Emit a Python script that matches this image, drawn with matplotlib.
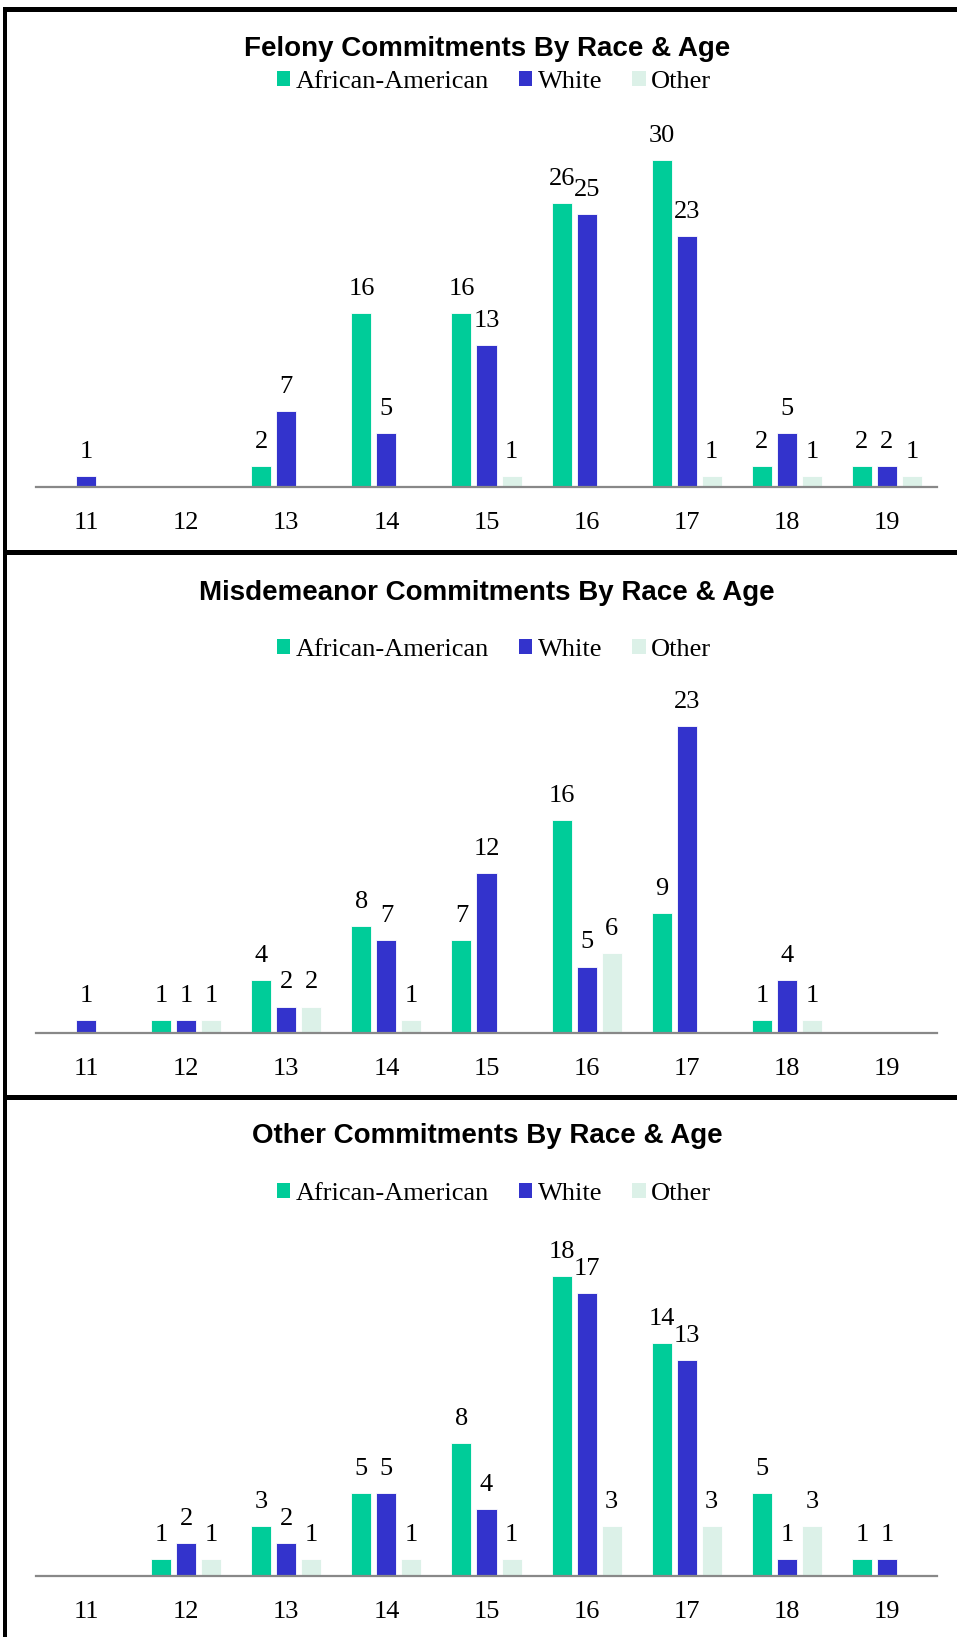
import matplotlib
matplotlib.use("Agg")
import matplotlib.pyplot as plt
from matplotlib.patches import Patch, Rectangle
import numpy as np

ages = ["11", "12", "13", "14", "15", "16", "17", "18", "19"]
series_names = ["African-American", "White", "Other"]
colors = ["#00CC99", "#3333CC", "#DCF1E8"]

felony_aa = [0, 0, 2, 16, 16, 26, 30, 2, 2]
felony_white = [1, 0, 7, 5, 13, 25, 23, 5, 2]
felony_other = [0, 0, 0, 0, 1, 0, 1, 1, 1]

misd_aa = [0, 1, 4, 8, 7, 16, 9, 1, 0]
misd_white = [1, 1, 2, 7, 12, 5, 23, 4, 0]
misd_other = [0, 1, 2, 1, 0, 6, 0, 1, 0]

oth_aa = [0, 1, 3, 5, 8, 18, 14, 5, 1]
oth_white = [0, 2, 2, 5, 4, 17, 13, 1, 1]
oth_other = [0, 1, 1, 1, 1, 3, 3, 3, 0]

titles = ["Felony Commitments By Race & Age",
          "Misdemeanor Commitments By Race & Age",
          "Other Commitments By Race & Age"]

W, H = 957, 1637
fig = plt.figure(figsize=(W / 100, H / 100), dpi=100)
fig.patch.set_facecolor("white")

serif = "Liberation Serif"
sans = "Liberation Sans"

panels = [
    dict(data=[felony_aa, felony_white, felony_other], base=487.4, ppu=10.92, ymax=35,
         title_y=49, legend_y=82),
    dict(data=[misd_aa, misd_white, misd_other], base=1033.2, ppu=13.34, ymax=28,
         title_y=593, legend_y=650),
    dict(data=[oth_aa, oth_white, oth_other], base=1575.9, ppu=16.64, ymax=22,
         title_y=1136, legend_y=1194),
]

x_left, x_right = 36, 937
x = np.arange(len(ages))
bw = 0.2
offs = [-0.25, 0.0, 0.25]

for i, p in enumerate(panels):
    h_px = p["ymax"] * p["ppu"]
    ax = fig.add_axes([x_left / W, (H - p["base"]) / H, (x_right - x_left) / W, h_px / H])
    for s in range(3):
        vals = p["data"][s]
        ax.bar(x + offs[s], vals, width=bw, color=colors[s],
               edgecolor="white", linewidth=0.6, zorder=2)
        for xi, v in zip(x + offs[s], vals):
            if v > 0:
                ax.annotate(str(v), (xi, v), xytext=(0, 13), textcoords="offset points",
                            ha="center", va="baseline", fontsize=19, family=serif)
    ax.set_xlim(-0.5, len(ages) - 0.5)
    ax.set_ylim(0, p["ymax"])
    ax.set_xticks(x)
    ax.set_xticklabels(ages, fontsize=19, family=serif)
    ax.tick_params(axis="x", length=0, pad=18)
    ax.set_yticks([])
    for sp in ["top", "left", "right"]:
        ax.spines[sp].set_visible(False)
    ax.spines["bottom"].set_color("#888888")
    ax.spines["bottom"].set_linewidth(1.6)
    ax.patch.set_alpha(0)

    fig.text(487 / W, 1 - p["title_y"] / H, titles[i], ha="center", va="center",
             fontsize=20, fontweight="bold", family=sans)
    handles = [Patch(facecolor=c, edgecolor="none") for c in colors]
    fig.legend(handles, series_names, loc="center", bbox_to_anchor=(494 / W, 1 - p["legend_y"] / H),
               ncol=3, frameon=False, prop={"family": serif, "size": 19},
               handlelength=0.5, handleheight=0.5, handletextpad=0.2, columnspacing=1.15,
               borderpad=0, borderaxespad=0)

# frame lines
def hline(y0, y1):
    fig.add_artist(Rectangle((3 / W, 1 - y1 / H), 1 - 3 / W, (y1 - y0) / H,
                             transform=fig.transFigure, color="black", lw=0))

hline(7, 12)
hline(550, 555)
hline(1095, 1100)
fig.add_artist(Rectangle((3 / W, 0), 4 / W, 1 - 7 / H, transform=fig.transFigure,
                         color="black", lw=0))

fig.savefig("out.png", dpi=100, facecolor="white")
